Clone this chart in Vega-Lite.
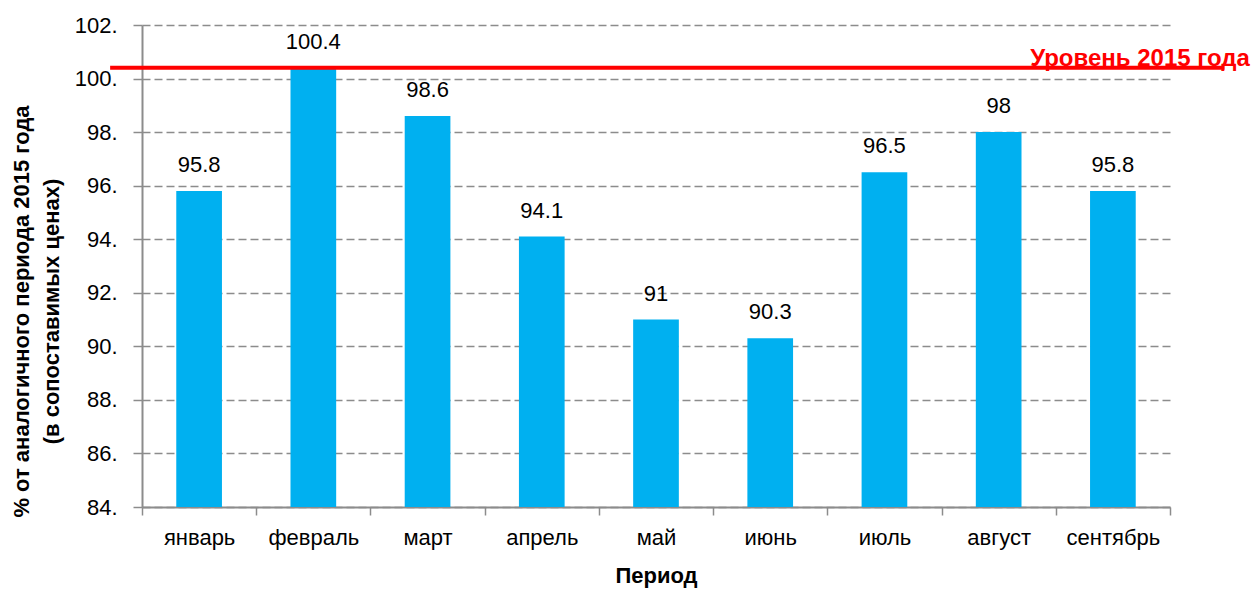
{
  "$schema": "https://vega.github.io/schema/vega-lite/v6.json",
  "width": 1028,
  "height": 482,
  "autosize": {"type": "none"},
  "padding": {"left": 142, "top": 25, "right": 82, "bottom": 85},
  "background": "white",
  "config": {
    "view": {"stroke": null},
    "font": "Liberation Sans, Arial, sans-serif"
  },
  "layer": [
    {
      "data": {
        "values": [
          {"month": "январь", "value": 95.8},
          {"month": "февраль", "value": 100.4},
          {"month": "март", "value": 98.6},
          {"month": "апрель", "value": 94.1},
          {"month": "май", "value": 91},
          {"month": "июнь", "value": 90.3},
          {"month": "июль", "value": 96.5},
          {"month": "август", "value": 98},
          {"month": "сентябрь", "value": 95.8}
        ]
      },
      "encoding": {
        "x": {
          "field": "month",
          "type": "nominal",
          "sort": null,
          "scale": {"paddingInner": 0, "paddingOuter": 0},
          "axis": {
            "title": "Период",
            "titleFontSize": 22,
            "titleFontWeight": "bold",
            "titleColor": "black",
            "titlePadding": 17,
            "labelAngle": 0,
            "labelFontSize": 22,
            "labelColor": "black",
            "labelPadding": 12,
            "tickBand": "extent",
            "tickSize": 8,
            "tickColor": "#8c8c8c",
            "tickWidth": 1.5,
            "domainColor": "#8c8c8c",
            "domainWidth": 2,
            "grid": false
          }
        },
        "y": {
          "field": "value",
          "type": "quantitative",
          "scale": {"domain": [84, 102], "nice": false, "zero": false},
          "axis": {
            "values": [84, 86, 88, 90, 92, 94, 96, 98, 100, 102],
            "labelExpr": "datum.value + '.'",
            "labelFontSize": 22,
            "labelColor": "black",
            "labelPadding": 16,
            "tickSize": 9,
            "tickColor": "#8c8c8c",
            "tickWidth": 1.5,
            "domainColor": "#8c8c8c",
            "domainWidth": 2,
            "grid": true,
            "gridColor": "#8c8c8c",
            "gridWidth": 1.5,
            "gridDash": [8, 4],
            "title": ["% от аналогичного периода 2015 года", "(в сопоставимых ценах)"],
            "titleFontSize": 22,
            "titleFontWeight": "bold",
            "titleColor": "black",
            "titleLineHeight": 30,
            "titleAngle": -90,
            "titleAlign": "center",
            "titleBaseline": "middle",
            "titleX": -121,
            "titleY": 286
          }
        }
      },
      "layer": [
        {
          "mark": {"type": "bar", "color": "#00B0F0", "width": {"band": 0.4}},
          "encoding": {"y2": {"datum": 84}}
        },
        {
          "mark": {
            "type": "text",
            "baseline": "alphabetic",
            "align": "center",
            "dy": -19,
            "fontSize": 22,
            "color": "black"
          },
          "encoding": {"text": {"field": "value", "type": "quantitative"}}
        }
      ]
    },
    {
      "data": {
        "values": [
          {"level": 100.4, "from": -0.031, "to": 1.053, "labelAt": 0.864, "label": "Уровень 2015 года"}
        ]
      },
      "layer": [
        {
          "mark": {"type": "rule", "color": "#FF0000", "strokeWidth": 4},
          "encoding": {
            "x": {"field": "from", "type": "quantitative", "scale": {"domain": [0, 1], "nice": false, "zero": false}, "axis": null},
            "x2": {"field": "to"},
            "y": {"field": "level", "type": "quantitative"}
          }
        },
        {
          "mark": {
            "type": "text",
            "align": "left",
            "baseline": "alphabetic",
            "dy": -2,
            "fontSize": 24,
            "fontWeight": "bold",
            "color": "#FF0000"
          },
          "encoding": {
            "x": {"field": "labelAt", "type": "quantitative", "scale": {"domain": [0, 1], "nice": false, "zero": false}, "axis": null},
            "y": {"field": "level", "type": "quantitative"},
            "text": {"field": "label"}
          }
        }
      ]
    }
  ],
  "resolve": {"scale": {"x": "independent"}, "axis": {"x": "independent"}}
}
